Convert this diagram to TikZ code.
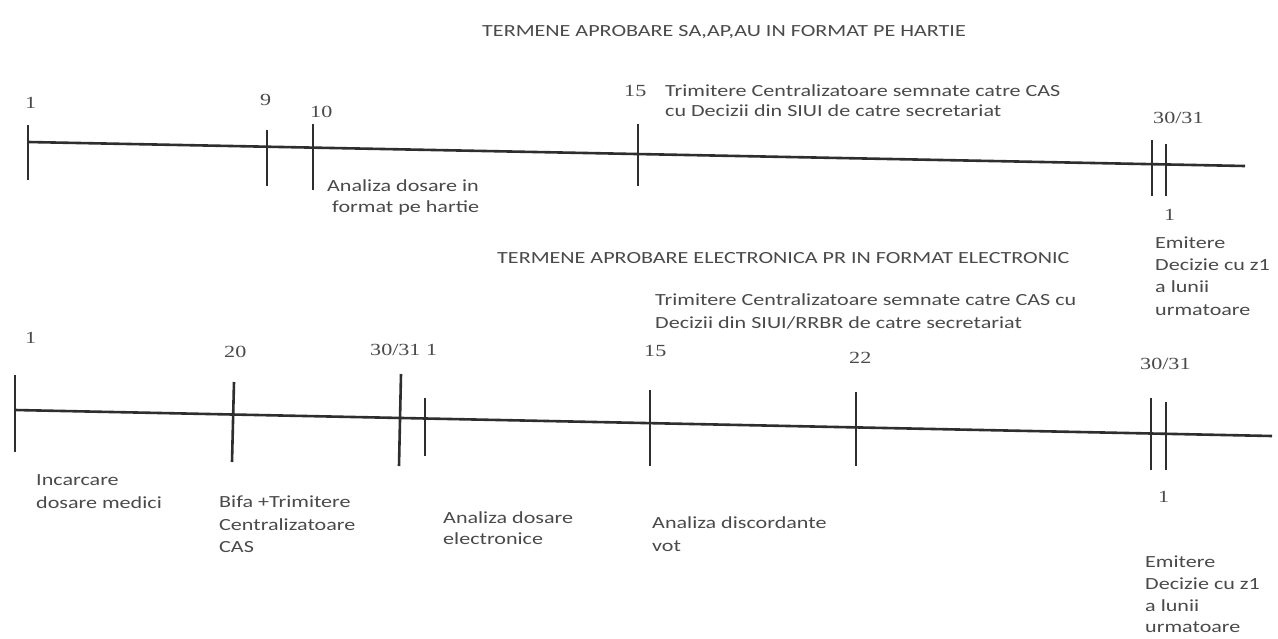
\documentclass[tikz,border=0pt]{standalone}
\usepackage{fontspec}
\setmainfont{Carlito}[FakeStretch=1.3]
\newfontfamily\numfont{Liberation Serif}[FakeStretch=1.3]
\definecolor{ink}{HTML}{2E2E2E}
\definecolor{txt}{HTML}{4A4A4A}
\begin{document}
\begin{tikzpicture}[x=1pt,y=-1pt,
  lbl/.style={anchor=west,inner sep=0pt,text=txt,font=\fontsize{17}{20}\selectfont},
  num/.style={anchor=west,inner sep=0pt,text=txt,font=\numfont\fontsize{17}{20}\selectfont},
  axis/.style={draw=ink,line width=2.6pt},
  tick/.style={draw=ink,line width=2.6pt}]
\useasboundingbox[fill=white] (0,0) rectangle (1278,638);
% ---- timeline 1
\node[lbl] (t1) at (482,32) {TERMENE APROBARE SA,AP,AU IN FORMAT PE HARTIE};
\coordinate (a1) at (28,142);
\coordinate (b1) at (1245,166);
\draw[axis] (a1) -- (b1);
\draw[tick] (28,125) -- (28,180);
\draw[tick] (267,130) -- (267,186);
\draw[tick] (313,124) -- (313,190);
\draw[tick] (638,124) -- (638,186);
\draw[tick] (1152,140) -- (1152,196);
\draw[tick] (1166,144) -- (1166,196);
\node[num] (n1) at (25,103) {1};
\node[num] (n9) at (260,100) {9};
\node[num] (n10) at (310,112) {10};
\node[num] (n15) at (624,91) {15};
\node[lbl] (s1a) at (665,91) {Trimitere Centralizatoare semnate catre CAS};
\node[lbl] (s1b) at (665,111) {cu Decizii din SIUI de catre secretariat};
\node[num] (n3031) at (1153,118) {30/31};
\node[lbl] (an1a) at (327,186) {Analiza dosare in};
\node[lbl] (an1b) at (332,208) {format pe hartie};
\node[num] (n1b) at (1164,215) {1};
\node[lbl] (e1a) at (1155,243) {Emitere};
\node[lbl] (e1b) at (1155,265) {Decizie cu z1};
\node[lbl] (e1c) at (1155,287) {a lunii};
\node[lbl] (e1d) at (1155,310) {urmatoare};
% ---- timeline 2
\node[lbl] (t2) at (497,258) {TERMENE APROBARE ELECTRONICA PR IN FORMAT ELECTRONIC};
\node[lbl] (s2a) at (655,300) {Trimitere Centralizatoare semnate catre CAS cu};
\node[lbl] (s2b) at (655,323) {Decizii din SIUI/RRBR de catre secretariat};
\coordinate (a2) at (15,410);
\coordinate (b2) at (1272,436);
\draw[axis] (a2) -- (b2);
\draw[tick] (15,375) -- (15,452);
\draw[tick] (234,382) -- (232,462);
\draw[tick] (401,374) -- (399,466);
\draw[tick] (425,398) -- (425,456);
\draw[tick] (650,390) -- (650,466);
\draw[tick] (856,392) -- (856,466);
\draw[tick] (1151,398) -- (1151,470);
\draw[tick] (1166,402) -- (1166,470);
\node[num] (m1) at (25,338) {1};
\node[num] (m20) at (224,352) {20};
\node[num] (m3031) at (370,350) {30/31\ 1};
\node[num] (m15) at (644,351) {15};
\node[num] (m22) at (849,358) {22};
\node[num] (m3031b) at (1140,364) {30/31};
\node[lbl] (i1) at (36,480) {Incarcare};
\node[lbl] (i2) at (36,503) {dosare medici};
\node[lbl] (bf1) at (219,502) {Bifa +Trimitere};
\node[lbl] (bf2) at (219,525) {Centralizatoare};
\node[lbl] (bf3) at (219,547) {CAS};
\node[lbl] (ad1) at (443,518) {Analiza dosare};
\node[lbl] (ad2) at (443,539) {electronice};
\node[lbl] (av1) at (652,523) {Analiza discordante};
\node[lbl] (av2) at (652,546) {vot};
\node[num] (m1b) at (1158,497) {1};
\node[lbl] (e2a) at (1145,562) {Emitere};
\node[lbl] (e2b) at (1145,584) {Decizie cu z1};
\node[lbl] (e2c) at (1145,606) {a lunii};
\node[lbl] (e2d) at (1145,627) {urmatoare};
\end{tikzpicture}
\end{document}
